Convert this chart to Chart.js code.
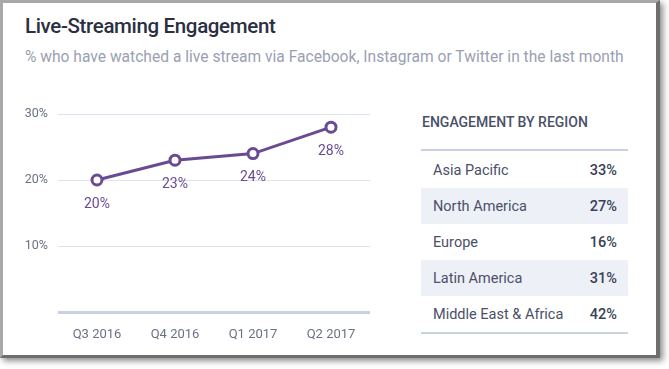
<!DOCTYPE html>
<html>
<head>
<meta charset="utf-8">
<script src="https://cdn.jsdelivr.net/npm/chart.js@4/dist/chart.umd.min.js"></script>
<style>
  html, body { margin: 0; padding: 0; background: #ffffff; width: 669px; height: 369px; overflow: hidden; }
  #card {
    position: absolute; left: 0; top: 0; width: 653px; height: 352px;
    background: #fff;
    border-left: 3px solid #a9a9a9; border-top: 3px solid #a9a9a9;
    border-right: 4px solid #6e6e6e; border-bottom: 3px solid #6e6e6e;
    box-shadow: 3px 3px 6px rgba(0,0,0,0.45);
  }
  #title { position: absolute; left: 25px; top: 14px; font-family: Roboto, sans-serif; font-weight: 500; font-size: 20.5px; letter-spacing: -0.35px; color: #2b2f42; white-space: nowrap; }
  #subtitle { position: absolute; left: 25px; top: 48px; font-family: Roboto, sans-serif; font-size: 15.6px; color: #9a9fb3; white-space: nowrap; }
  #chartWrap { position: absolute; left: 0; top: 90px; width: 390px; height: 265px; }
  #panel { position: absolute; left: 421px; top: 108px; width: 207px; font-family: Roboto, sans-serif; }
  #panelTitle { font-size: 14px; font-weight: 500; color: #4a5068; padding-left: 1px; height: 43px; line-height: 28px; border-bottom: 2px solid #c9d1e3; box-sizing: border-box; }
  table { border-collapse: collapse; width: 207px; border-bottom: 2px solid #c9d1e3; margin-top: 1px; }
  td { height: 36px; padding: 0; font-size: 14.5px; color: #4a5068; }
  td.name { padding-left: 12px; }
  td.val { text-align: right; padding-right: 11px; font-weight: 500; color: #3a3f55; }
  tr.alt td { background: #eef0f7; }
</style>
</head>
<body>
<div id="card"></div>
<div id="title">Live-Streaming Engagement</div>
<div id="subtitle">% who have watched a live stream via Facebook, Instagram or Twitter in the last month</div>
<div id="chartWrap"><canvas id="c" width="390" height="265"></canvas></div>
<div id="panel">
  <div id="panelTitle">ENGAGEMENT BY REGION</div>
  <table id="tbl"></table>
</div>
<script>
const quarters = ["Q3 2016", "Q4 2016", "Q1 2017", "Q2 2017"];
const engagement = [20, 23, 24, 28];
const yTicks = [0, 10, 20, 30];
const regions = ["Asia Pacific", "North America", "Europe", "Latin America", "Middle East & Africa"];
const regionValues = [33, 27, 16, 31, 42];

const tbl = document.getElementById('tbl');
regions.forEach((r, i) => {
  const tr = document.createElement('tr');
  if (i % 2 === 1) tr.className = 'alt';
  const a = document.createElement('td'); a.className = 'name'; a.textContent = r;
  const b = document.createElement('td'); b.className = 'val'; b.textContent = regionValues[i] + '%';
  tr.appendChild(a); tr.appendChild(b); tbl.appendChild(tr);
});

const purple = '#6a4a93';
const labelPlugin = {
  id: 'pointLabels',
  afterDatasetsDraw(chart) {
    const ctx = chart.ctx;
    const meta = chart.getDatasetMeta(0);
    ctx.save();
    ctx.fillStyle = purple;
    ctx.font = '14px Roboto, sans-serif';
    ctx.textAlign = 'center';
    ctx.textBaseline = 'middle';
    meta.data.forEach((pt, i) => {
      ctx.fillText(engagement[i] + '%', pt.x, pt.y + 24);
    });
    ctx.restore();
  }
};

new Chart(document.getElementById('c'), {
  type: 'line',
  data: {
    labels: quarters,
    datasets: [{
      data: engagement,
      borderColor: purple,
      borderWidth: 3,
      pointRadius: 5,
      pointBorderWidth: 3,
      pointBackgroundColor: '#ffffff',
      pointBorderColor: purple,
      tension: 0
    }]
  },
  options: {
    responsive: false,
    animation: false,
    layout: { padding: { left: 0, right: 20, top: 24, bottom: 0 } },
    plugins: { legend: { display: false }, tooltip: { enabled: false } },
    scales: {
      x: {
        offset: true,
        grid: { display: false, drawTicks: false },
        border: { display: false },
        ticks: { color: '#6b7185', font: { family: 'Roboto, sans-serif', size: 13 }, padding: 15 },
        afterFit(s) { s.height = 43; }
      },
      y: {
        min: yTicks[0], max: yTicks[yTicks.length - 1],
        afterBuildTicks(s) { s.ticks = yTicks.map(v => ({ value: v })); },
        grid: {
          drawTicks: false,
          color: ctx => ctx.tick && ctx.tick.value === 0 ? '#c9d1e3' : '#dfe2ef',
          lineWidth: ctx => ctx.tick && ctx.tick.value === 0 ? 3 : 1
        },
        border: { display: false },
        ticks: {
          color: '#6b7185', font: { family: 'Roboto, sans-serif', size: 12.5 }, padding: 10,
          callback: v => v === 0 ? '' : v + '%'
        },
        afterFit(s) { s.width = 58; }
      }
    }
  },
  plugins: [labelPlugin]
});
</script>
</body>
</html>
